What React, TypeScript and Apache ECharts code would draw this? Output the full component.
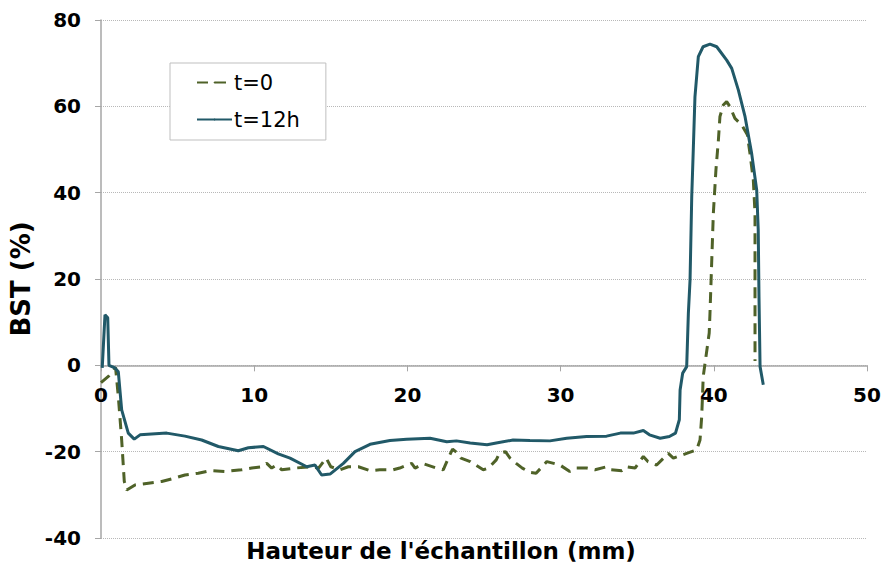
import React, { useEffect, useRef } from "react";
import * as echarts from "echarts";

const xTicks = [0, 10, 20, 30, 40, 50];
const yTicks = [-40, -20, 0, 20, 40, 60, 80];
const seriesNames = ["t=0", "t=12h"];

const t0Data: number[][] = [
  [0.0, -4], [0.5, -2.5], [0.95, -0.5], [1.13, -7.2], [1.35, -17.3], [1.46, -23.5], [1.52, -26.9],
  [1.68, -28.9], [2.22, -27.7], [3.09, -27.3], [3.96, -26.9], [4.72, -26.2], [5.48, -25.4],
  [6.35, -25], [7.11, -24.4], [8.09, -24.6], [9.18, -24.2], [9.84, -23.8], [10.49, -23.5],
  [10.82, -22.7], [11.14, -23.8], [11.47, -23.1], [11.8, -24.2], [12.66, -23.8], [13.64, -23.5],
  [14.2, -23.8], [14.7, -21.5], [15.0, -23.5], [15.6, -24.2], [16.14, -23.5], [16.8, -23.5],
  [17.56, -24.4], [18.2, -24.2], [19.08, -24.2], [19.5, -23.8], [20.28, -22.7], [20.5, -23.8],
  [21.04, -22.8], [21.9, -23.8], [22.34, -24.2], [22.67, -21.5], [22.95, -19.4], [23.3, -20.4],
  [23.5, -21.5], [24.1, -22.3], [24.95, -24.2], [25.3, -23.8], [25.8, -21.9], [26.0, -20.4],
  [26.4, -20], [26.7, -21.5], [27.1, -22.7], [27.5, -23.8], [28.0, -24.8], [28.4, -25],
  [29.1, -22.3], [29.96, -23.1], [30.6, -24.6], [31.05, -23.8], [31.7, -23.8], [32.25, -24.2],
  [33.0, -23.5], [33.3, -24.2], [34.0, -24.4], [34.3, -23.5], [34.86, -23.8], [35.4, -21.1],
  [35.7, -22.3], [36.27, -23.1], [37.03, -20.4], [37.36, -21.5], [38.23, -20.4], [38.88, -19.6],
  [39.1, -17.3], [39.21, -11.9], [39.31, -2.6], [39.7, 7.5], [39.75, 12], [39.86, 23.6],
  [39.97, 35.2], [40.14, 45.3], [40.3, 52.2], [40.4, 57.6], [40.62, 60.3], [40.84, 61.1],
  [41.06, 59.9], [41.38, 57.2], [41.82, 55.7], [42.19, 53.4], [42.36, 49.1], [42.58, 42.9],
  [42.69, 35.2], [42.69, 23.6], [42.69, 12.1], [42.69, 1],
];

const t12Data: number[][] = [
  [0.08, -0.6], [0.26, 11.7], [0.44, 11], [0.52, 0], [0.91, -0.6], [1.13, -1.5], [1.35, -10.3],
  [1.78, -15.7], [2.17, -17.1], [2.55, -16.1], [3.3, -15.9], [4.29, -15.7], [5.48, -16.4],
  [6.57, -17.3], [7.66, -18.8], [8.96, -19.8], [9.62, -19.1], [10.6, -18.8], [11.57, -20.5],
  [12.34, -21.5], [13.43, -23.5], [13.97, -23.1], [14.4, -25.4], [14.95, -25.2], [15.82, -22.7],
  [16.58, -20], [17.56, -18.3], [18.86, -17.4], [19.95, -17.1], [21.48, -16.9], [22.57, -17.7],
  [23.2, -17.5], [24.1, -18], [25.2, -18.4], [25.8, -18], [26.9, -17.3], [28.0, -17.4],
  [29.3, -17.5], [30.4, -16.9], [31.7, -16.5], [33.0, -16.4], [33.9, -15.7], [34.75, -15.7],
  [35.4, -15.1], [35.8, -16.1], [36.5, -16.9], [37.1, -16.5], [37.5, -15.7], [37.75, -12.6],
  [37.8, -5.7], [37.97, -1.8], [38.23, -0.3], [38.34, 12.1], [38.45, 19.8], [38.56, 39.1],
  [38.66, 49.9], [38.77, 62.2], [38.99, 71.5], [39.3, 73.8], [39.75, 74.4], [40.19, 73.8],
  [40.84, 70.7], [41.17, 68.8], [41.6, 63.8], [42.04, 57.6], [42.47, 49.1], [42.8, 40.6],
  [42.9, 31.4], [42.95, 15.9], [43.02, -0.3], [43.23, -4.5],
];

const OLIVE = "#4F6228";
const TEAL = "#215968";
const FONT = "'DejaVu Sans', sans-serif";

const GRID_TOP = 20;
const GRID_BOTTOM = 38;
const CHART_H = 576;

export default function App() {
  const ref = useRef<HTMLDivElement>(null);
  useEffect(() => {
    if (!ref.current) return;
    const chart = echarts.init(ref.current, null, { renderer: "svg" });
    const yMin = yTicks[0];
    const yMax = yTicks[yTicks.length - 1];
    const plotH = CHART_H - GRID_TOP - GRID_BOTTOM;
    // place the x axis line at the y = 0 level of the value scale
    const zeroOffset = -(plotH * (0 - yMin)) / (yMax - yMin);
    chart.setOption({
      animation: false,
      backgroundColor: "#ffffff",
      grid: { left: 101, right: 15, top: GRID_TOP, bottom: GRID_BOTTOM, containLabel: false, outerBoundsMode: "none" },
      legend: {
        orient: "vertical",
        left: 170,
        top: 63,
        data: seriesNames,
        backgroundColor: "#ffffff",
        borderColor: "#bfbfbf",
        borderWidth: 1,
        padding: [9, 26, 10, 26],
        itemWidth: 35,
        itemHeight: 2,
        itemGap: 16,
        textStyle: { fontFamily: FONT, fontSize: 21, color: "#000", padding: [0, 0, 0, -3] },
      },
      xAxis: {
        type: "value",
        min: xTicks[0],
        max: xTicks[xTicks.length - 1],
        interval: 10,
        offset: zeroOffset,
        axisLine: { show: true, onZero: false, lineStyle: { color: "#a6a6a6", width: 1.5 } },
        axisTick: { show: true, length: 6, lineStyle: { color: "#a6a6a6" } },
        axisLabel: { fontFamily: FONT, fontWeight: "bold", fontSize: 20, color: "#000", margin: 20 },
        splitLine: { show: false },
      },
      yAxis: {
        type: "value",
        min: yMin,
        max: yMax,
        interval: 20,
        name: "BST (%)",
        nameLocation: "middle",
        nameGap: 57,
        nameTextStyle: { fontFamily: FONT, fontWeight: "bold", fontSize: 26, color: "#000" },
        axisLine: { show: true, onZero: false, lineStyle: { color: "#a6a6a6", width: 1.5 } },
        axisTick: { show: true, length: 6, lineStyle: { color: "#a6a6a6" } },
        axisLabel: { fontFamily: FONT, fontWeight: "bold", fontSize: 20, color: "#000", margin: 20 },
        splitLine: { show: true, lineStyle: { color: "#b8b8b8", type: "dotted", width: 1 } },
      },
      graphic: [
        {
          type: "text",
          left: "center",
          top: 539,
          style: {
            text: "Hauteur de l'échantillon (mm)",
            fontFamily: FONT,
            fontWeight: "bold",
            fontSize: 23,
            fill: "#000",
          },
        },
      ],
      series: [
        {
          name: seriesNames[0],
          type: "line",
          data: t0Data,
          symbol: "none",
          lineStyle: { color: OLIVE, width: 3, type: [11, 7] },
          itemStyle: { color: OLIVE },
          z: 2,
        },
        {
          name: seriesNames[1],
          type: "line",
          data: t12Data,
          symbol: "none",
          lineStyle: { color: TEAL, width: 3 },
          itemStyle: { color: TEAL },
          z: 3,
        },
      ],
    });
    return () => chart.dispose();
  }, []);
  return <div ref={ref} style={{ width: 882, height: 576, position: "absolute", left: 0, top: 0 }} />;
}
